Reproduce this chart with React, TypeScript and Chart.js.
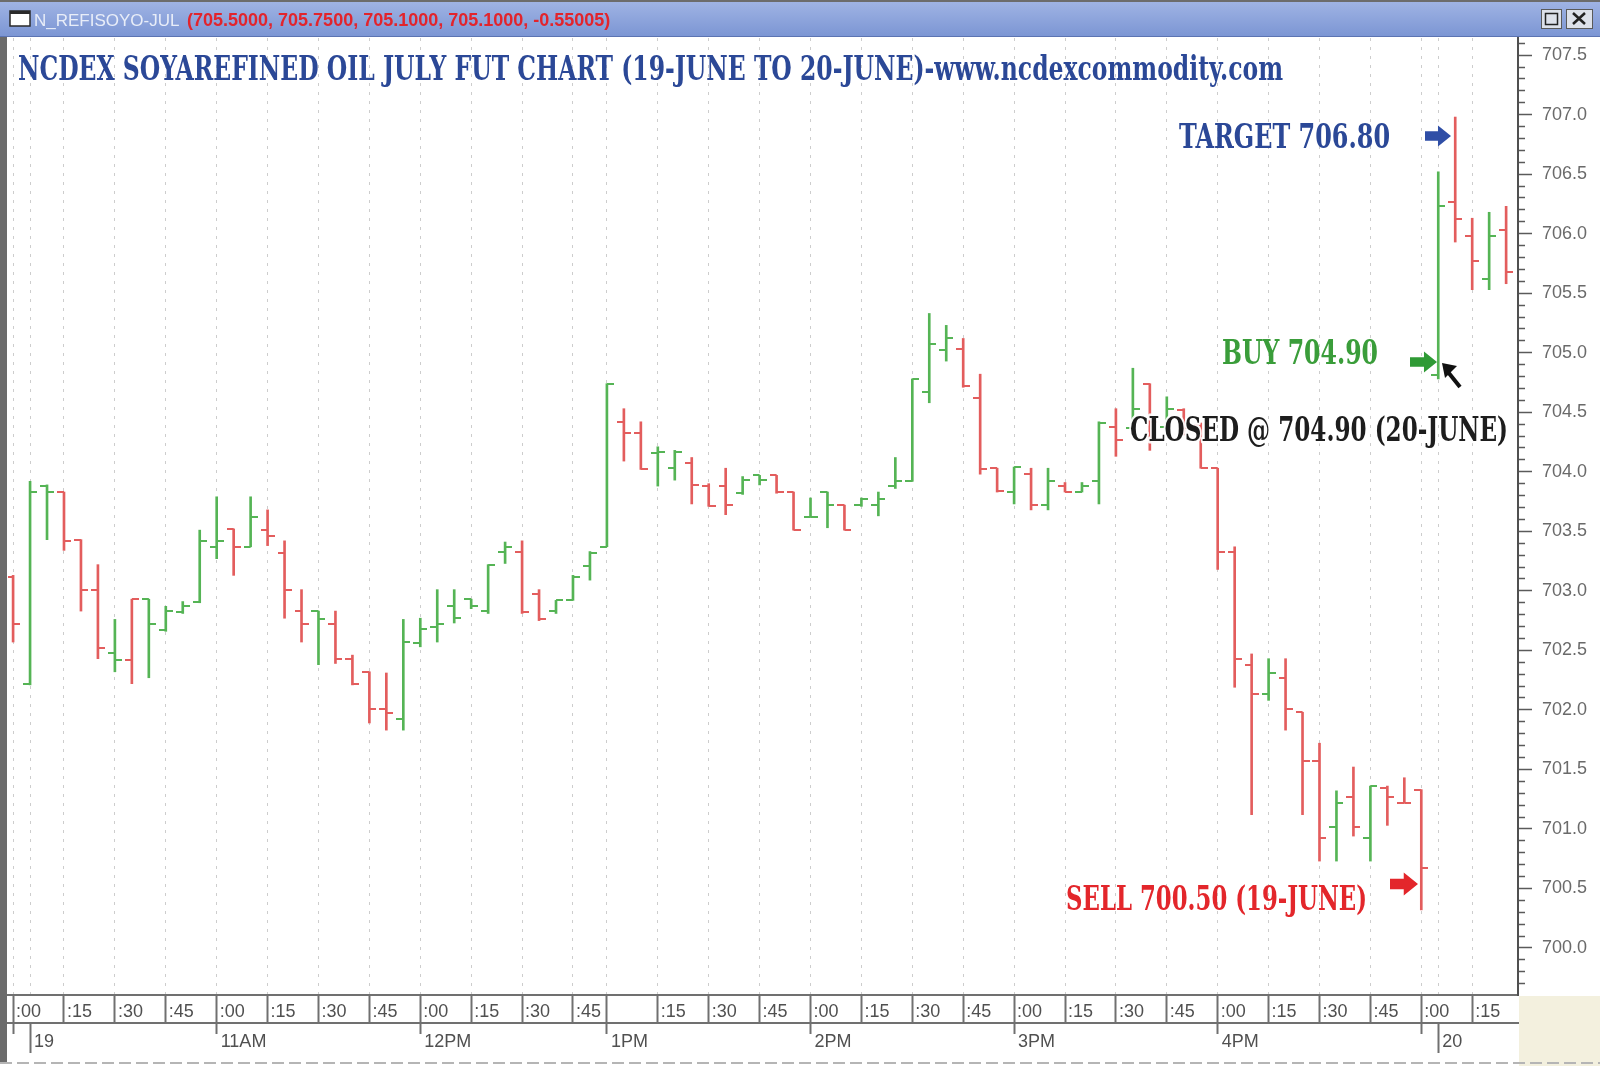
import React, { useEffect, useRef } from "react";
import { Chart, registerables } from "chart.js";
Chart.register(...registerables);

// ---- data (5-minute OHLC bars, 19-June 10:00 to 20-June) ----
const opens = [
  703.12, 702.22, 703.88, 703.83, 703.43, 703.01, 702.48, 702.42, 702.93, 702.67,
  702.82, 702.91, 703.37, 703.52, 703.37, 703.51, 703.32, 702.83, 702.83, 702.72,
  702.43, 702.32, 702.01, 701.92, 702.56, 702.70, 702.87, 702.93, 702.83, 703.33,
  703.33, 702.97, 702.83, 702.92, 703.21, 703.37, 704.42, 704.33, 704.16, 704.03,
  704.07, 703.88, 703.88, 703.82, 703.97, 703.97, 703.83, 703.62, 703.83, 703.72,
  703.72, 703.72, 703.88, 703.92, 704.67, 705.02, 705.03, 704.62, 704.03, 703.83,
  703.98, 703.72, 703.88, 703.83, 703.92, 704.38, 704.37, 704.74, 704.38, 704.52,
  704.39, 704.03, 703.33, 702.38, 702.13, 702.27, 701.98, 701.57, 701.02, 701.27,
  700.92, 701.34, 701.22, 701.33, 704.81, 706.27, 705.98, 705.62, 706.03,
];
const highs = [
  703.13, 703.92, 703.89, 703.83, 703.43, 703.22, 702.76, 702.93, 702.93, 702.87,
  702.91, 703.51, 703.79, 703.52, 703.79, 703.68, 703.42, 703.01, 702.83, 702.83,
  702.46, 702.32, 702.31, 702.76, 702.77, 703.01, 703.01, 702.93, 703.22, 703.41,
  703.42, 703.01, 702.92, 703.13, 703.33, 704.74, 704.53, 704.42, 704.21, 704.18,
  704.12, 703.90, 704.03, 703.96, 703.97, 703.97, 703.83, 703.78, 703.83, 703.72,
  703.78, 703.83, 704.12, 704.78, 705.33, 705.23, 705.12, 704.82, 704.03, 704.04,
  704.03, 704.03, 703.91, 703.91, 704.42, 704.53, 704.87, 704.74, 704.63, 704.53,
  704.41, 704.03, 703.37, 702.47, 702.43, 702.43, 701.98, 701.72, 701.32, 701.52,
  701.36, 701.36, 701.43, 701.33, 706.52, 706.98, 706.13, 706.18, 706.23,
];
const lows = [
  702.57, 702.21, 703.43, 703.34, 702.83, 702.43, 702.32, 702.22, 702.27, 702.66,
  702.81, 702.90, 703.27, 703.13, 703.37, 703.38, 702.77, 702.57, 702.38, 702.39,
  702.21, 701.89, 701.83, 701.83, 702.53, 702.57, 702.73, 702.85, 702.81, 703.23,
  702.81, 702.75, 702.81, 702.92, 703.09, 703.37, 704.09, 704.02, 703.88, 703.93,
  703.73, 703.71, 703.64, 703.81, 703.89, 703.82, 703.51, 703.62, 703.53, 703.51,
  703.71, 703.63, 703.86, 703.92, 704.58, 704.93, 704.71, 703.98, 703.83, 703.73,
  703.68, 703.68, 703.83, 703.83, 703.73, 704.13, 704.37, 704.18, 704.35, 704.31,
  704.03, 703.18, 702.19, 701.12, 702.08, 701.83, 701.12, 700.73, 700.73, 700.94,
  700.73, 701.03, 701.22, 700.32, 704.78, 705.93, 705.53, 705.53, 705.58,
];
const closes = [
  702.72, 703.83, 703.83, 703.42, 703.01, 702.52, 702.42, 702.93, 702.72, 702.83,
  702.87, 703.42, 703.42, 703.37, 703.62, 703.46, 703.01, 702.72, 702.76, 702.43,
  702.22, 702.01, 701.97, 702.57, 702.68, 702.72, 702.77, 702.87, 703.22, 703.37,
  702.82, 702.76, 702.92, 703.12, 703.32, 704.74, 704.33, 704.02, 704.17, 704.17,
  703.89, 703.71, 703.72, 703.93, 703.93, 703.83, 703.51, 703.62, 703.72, 703.51,
  703.77, 703.77, 703.92, 704.78, 705.07, 705.12, 704.72, 704.02, 703.84, 704.04,
  703.72, 703.92, 703.83, 703.88, 704.41, 704.27, 704.53, 704.42, 704.53, 704.37,
  704.03, 703.33, 702.43, 702.13, 702.31, 702.01, 701.57, 700.92, 701.22, 701.02,
  701.36, 701.27, 701.22, 700.67, 706.23, 706.12, 705.77, 705.98, 705.68,
];
// u = green bar, d = red bar
const barDirection = (
  "duudddudu" + "u" +
  "uuududdd" + "ud" +
  "dddu" + "uuuuuu" +
  "dduuuuddu" + "u" +
  "ddduudduud" +
  "uuuuuuddd" + "u" +
  "dudu" + "ududud" +
  "ddddudddud" +
  "udddudd" + "ud"
).split("");

const minuteTickIdx = [0, 3, 6, 9, 12, 15, 18, 21, 24, 27, 30, 33, 35, 38, 41, 44, 47, 50, 53, 56, 59, 62, 65, 68, 71, 74, 77, 80, 83, 86];
const minuteTickLabels = [":00", ":15", ":30", ":45", ":00", ":15", ":30", ":45", ":00", ":15", ":30", ":45", "", ":15", ":30", ":45", ":00", ":15", ":30", ":45", ":00", ":15", ":30", ":45", ":00", ":15", ":30", ":45", ":00", ":15"];
const sessionTickIdx = [0, 1, 12, 24, 35, 47, 59, 71, 83, 84];
const sessionTickLabels = ["", "19", "11AM", "12PM", "1PM", "2PM", "3PM", "4PM", "", "20"];
const dayStartIdx = [1, 84];

const yMin = 699.605;
const yMax = 707.644;

const GREEN = "#55b455";
const RED = "#e35d5d";

function tickImage(color: string, side: "open" | "close") {
  const c = document.createElement("canvas");
  c.width = 14;
  c.height = 2;
  const g = c.getContext("2d")!;
  g.fillStyle = color;
  g.fillRect(side === "open" ? 0 : 7, 0, 7, 2);
  return c;
}

function blockArrow(ctx: CanvasRenderingContext2D, x0: number, x1: number, yc: number, h: number, color: string) {
  const head = h * 0.62;
  const sh = h * 0.45;
  ctx.fillStyle = color;
  ctx.beginPath();
  ctx.moveTo(x0, yc - sh / 2);
  ctx.lineTo(x1 - head, yc - sh / 2);
  ctx.lineTo(x1 - head, yc - h / 2);
  ctx.lineTo(x1, yc);
  ctx.lineTo(x1 - head, yc + h / 2);
  ctx.lineTo(x1 - head, yc + sh / 2);
  ctx.lineTo(x0, yc + sh / 2);
  ctx.closePath();
  ctx.fill();
}

function label(ctx: CanvasRenderingContext2D, text: string, x: number, y: number, w: number, font: string, color: string, halo = false) {
  ctx.font = font;
  ctx.textAlign = "left";
  ctx.textBaseline = "alphabetic";
  if (halo) {
    ctx.lineJoin = "round";
    ctx.lineWidth = 5;
    ctx.strokeStyle = "rgba(255,255,255,0.92)";
    ctx.strokeText(text, x, y, w);
  }
  ctx.fillStyle = color;
  ctx.fillText(text, x, y, w);
}

const chromePlugin = {
  id: "chrome",
  beforeDraw(chart: any) {
    const ctx: CanvasRenderingContext2D = chart.ctx;
    ctx.save();
    ctx.fillStyle = "#ffffff";
    ctx.fillRect(0, 0, 1600, 1066);
    const g = ctx.createLinearGradient(0, 2, 0, 37);
    g.addColorStop(0, "#9fb3e4");
    g.addColorStop(1, "#7b95d3");
    ctx.fillStyle = g;
    ctx.fillRect(0, 2, 1600, 35);
    ctx.fillStyle = "#6c6c6c";
    ctx.fillRect(0, 0, 1600, 2);
    ctx.fillStyle = "#5c74b2";
    ctx.fillRect(0, 36, 1600, 1);
    ctx.fillStyle = "#6b6b6b";
    ctx.fillRect(0, 37, 7, 1026);
    ctx.fillStyle = "#f3f0de";
    ctx.fillRect(1519, 996, 81, 70);
    ctx.strokeStyle = "#b5b5b5";
    ctx.lineWidth = 2;
    ctx.setLineDash([12, 5]);
    ctx.beginPath();
    ctx.moveTo(0, 1063);
    ctx.lineTo(1600, 1063);
    ctx.stroke();
    ctx.restore();
  },
  afterDraw(chart: any) {
    const ctx: CanvasRenderingContext2D = chart.ctx;
    ctx.save();
    // window title bar contents
    ctx.fillStyle = "#ffffff";
    ctx.fillRect(10, 11, 20, 15);
    ctx.strokeStyle = "#2a2a2a";
    ctx.lineWidth = 1.5;
    ctx.strokeRect(10, 11, 20, 15);
    ctx.fillStyle = "#2a2a2a";
    ctx.fillRect(10, 11, 20, 3);
    label(ctx, "N_REFISOYO-JUL", 34, 26, 148, "17px 'Liberation Sans'", "#e8edf8");
    label(ctx, "(705.5000, 705.7500, 705.1000, 705.1000, -0.55005)", 187, 26, 454, "bold 18px 'Liberation Sans'", "#e2242c");
    // window buttons
    ctx.fillStyle = "#dde1ea";
    ctx.fillRect(1541, 9, 20, 19);
    ctx.fillRect(1566, 9, 26, 19);
    ctx.strokeStyle = "#5a5a5a";
    ctx.lineWidth = 1;
    ctx.strokeRect(1541.5, 9.5, 20, 19);
    ctx.strokeRect(1566.5, 9.5, 26, 19);
    ctx.strokeStyle = "#222";
    ctx.lineWidth = 1.5;
    ctx.strokeRect(1545.5, 13.5, 12, 11);
    ctx.lineWidth = 2.5;
    ctx.beginPath();
    ctx.moveTo(1573, 13);
    ctx.lineTo(1585, 24);
    ctx.moveTo(1585, 13);
    ctx.lineTo(1573, 24);
    ctx.stroke();

    // chart annotations
    const serif = "'DejaVu Serif', 'Liberation Serif', serif";
    label(ctx, "NCDEX SOYAREFINED OIL JULY FUT CHART (19-JUNE TO 20-JUNE)-www.ncdexcommodity.com", 18, 80, 1265, `bold 33px ${serif}`, "#2b4897");
    label(ctx, "TARGET 706.80", 1179, 148, 211, `bold 34px ${serif}`, "#2b4897");
    blockArrow(ctx, 1425, 1451, 136, 21, "#2f4ea6");
    label(ctx, "BUY 704.90", 1222, 364, 156, `bold 33px ${serif}`, "#3a9d3a");
    blockArrow(ctx, 1410, 1437, 362, 21, "#2f9a35");
    label(ctx, "CLOSED @ 704.90 (20-JUNE)", 1130, 441, 378, `bold 33px ${serif}`, "#1d1d1d", true);
    label(ctx, "SELL 700.50 (19-JUNE)", 1066, 910, 301, `bold 33px ${serif}`, "#e3262b");
    blockArrow(ctx, 1390, 1418, 884, 23, "#e3262b");
    // mouse pointer
    ctx.fillStyle = "#111";
    ctx.strokeStyle = "#111";
    ctx.lineWidth = 4;
    ctx.beginPath();
    ctx.moveTo(1460, 387);
    ctx.lineTo(1448, 372);
    ctx.stroke();
    ctx.beginPath();
    ctx.moveTo(1442, 363);
    ctx.lineTo(1457, 366);
    ctx.lineTo(1445, 378);
    ctx.closePath();
    ctx.fill();
    ctx.restore();
  },
};

export default function App() {
  const ref = useRef<HTMLCanvasElement>(null);
  useEffect(() => {
    const canvas = ref.current!;
    const openG = tickImage(GREEN, "open");
    const openR = tickImage(RED, "open");
    const closeG = tickImage(GREEN, "close");
    const closeR = tickImage(RED, "close");
    const isUp = (i: number) => barDirection[i] === "u";
    const axisFont = { family: "'Liberation Sans', Arial, sans-serif", size: 18 };

    const chart = new Chart(canvas, {
      type: "bar",
      data: {
        datasets: [
          {
            type: "bar",
            data: highs.map((h, i) => ({ x: i, y: [lows[i], h] })) as any,
            backgroundColor: highs.map((_, i) => (isUp(i) ? GREEN : RED)),
            borderWidth: 0,
            barThickness: 2,
            order: 2,
          },
          {
            type: "line",
            data: opens.map((o, i) => ({ x: i, y: o })) as any,
            showLine: false,
            pointStyle: ((c: any) => (isUp(c.dataIndex) ? openG : openR)) as any,
            pointRadius: 3,
            pointHoverRadius: 3,
            order: 1,
          },
          {
            type: "line",
            data: closes.map((c, i) => ({ x: i, y: c })) as any,
            showLine: false,
            pointStyle: ((c: any) => (isUp(c.dataIndex) ? closeG : closeR)) as any,
            pointRadius: 3,
            pointHoverRadius: 3,
            order: 1,
          },
        ],
      },
      options: {
        animation: false,
        responsive: false,
        maintainAspectRatio: false,
        devicePixelRatio: 1,
        events: [],
        layout: { padding: { top: 38, left: 8, right: 0, bottom: 0 } },
        plugins: { legend: { display: false }, tooltip: { enabled: false }, title: { display: false } },
        scales: {
          x: {
            type: "linear",
            position: "bottom",
            weight: 0,
            min: -0.3,
            max: 88.7,
            offset: false,
            afterBuildTicks: (s: any) => {
              s.ticks = minuteTickIdx.map((v) => ({ value: v }));
            },
            afterFit: (s: any) => {
              s.height = 28;
            },
            ticks: {
              autoSkip: false,
              maxRotation: 0,
              minRotation: 0,
              align: "start",
              labelOffset: 3,
              padding: -22,
              color: "#505050",
              font: axisFont,
              callback: (_v: any, i: number) => minuteTickLabels[i],
            },
            grid: {
              offset: false,
              drawOnChartArea: true,
              color: "#cdcdcd",
              lineWidth: 1,
              drawTicks: true,
              tickLength: 28,
              tickColor: "#707070",
              tickWidth: 2,
            },
            border: { display: true, color: "#707070", width: 2, dash: [3, 6] },
          } as any,
          x2: {
            type: "linear",
            position: "bottom",
            axis: "x",
            weight: 1,
            min: -0.3,
            max: 88.7,
            offset: false,
            afterBuildTicks: (s: any) => {
              s.ticks = sessionTickIdx.map((v) => ({ value: v }));
            },
            afterFit: (s: any) => {
              s.height = 43;
            },
            ticks: {
              autoSkip: false,
              maxRotation: 0,
              minRotation: 0,
              align: "start",
              labelOffset: 4,
              padding: -22,
              color: "#505050",
              font: axisFont,
              callback: (_v: any, i: number) => sessionTickLabels[i],
            },
            grid: {
              offset: false,
              drawOnChartArea: true,
              color: "#cdcdcd",
              lineWidth: 1,
              drawTicks: true,
              tickLength: 30,
              tickColor: "#707070",
              tickWidth: 2,
              tickBorderDash: (c: any) => (c.tick && dayStartIdx.includes(c.tick.value) ? [] : [10, 60]),
            },
            border: { display: true, color: "#707070", width: 2, dash: [3, 6] },
          } as any,
          y: {
            type: "linear",
            position: "right",
            min: yMin,
            max: yMax,
            beginAtZero: false,
            afterBuildTicks: (s: any) => {
              const t: any[] = [];
              for (let k = Math.ceil(yMin * 10); k <= Math.floor(yMax * 10); k++) t.push({ value: k / 10 });
              s.ticks = t;
            },
            afterFit: (s: any) => {
              s.width = 82;
            },
            ticks: {
              autoSkip: false,
              padding: 10,
              color: "#6a6a6a",
              font: { family: "'Liberation Sans', Arial, sans-serif", size: 18 },
              callback: (v: any) => {
                const n = Number(v);
                return Math.abs(n * 2 - Math.round(n * 2)) < 1e-6 ? n.toFixed(1) : "";
              },
            },
            grid: {
              drawOnChartArea: false,
              drawTicks: true,
              tickLength: 14,
              tickColor: "#5a5a5a",
              tickWidth: 1.5,
              tickBorderDash: (c: any) => {
                const n = c.tick ? c.tick.value : 0;
                return Math.abs(n * 2 - Math.round(n * 2)) < 1e-6 ? [] : [6, 40];
              },
            },
            border: { display: true, color: "#505050", width: 2 },
          } as any,
        },
      },
      plugins: [chromePlugin],
    } as any);
    return () => chart.destroy();
  }, []);

  return (
    <div style={{ position: "fixed", left: 0, top: 0, width: 1600, height: 1066, background: "#fff" }}>
      <canvas ref={ref} width={1600} height={1066} style={{ display: "block", width: 1600, height: 1066 }} />
    </div>
  );
}
